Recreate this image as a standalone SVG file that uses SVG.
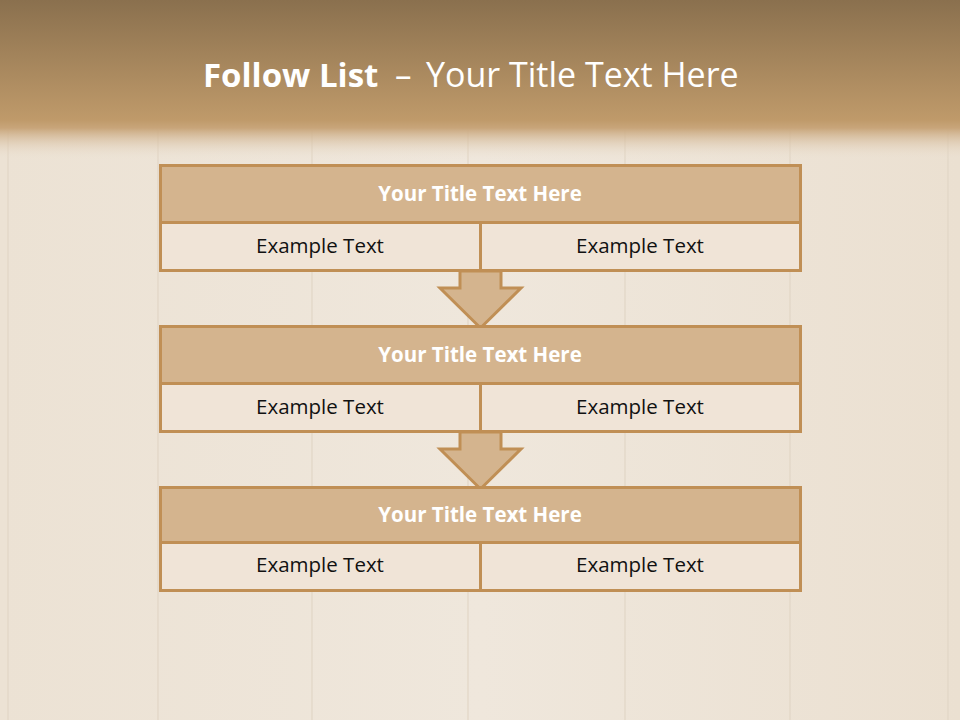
<svg xmlns="http://www.w3.org/2000/svg" width="960" height="720" viewBox="0 0 960 720">
<defs>
<linearGradient id="hdr" x1="0" y1="0" x2="0" y2="1">
<stop offset="0" stop-color="#8a704e"/>
<stop offset="0.75" stop-color="#bf9a6a"/>
<stop offset="0.8" stop-color="#c8a57a"/>
<stop offset="1" stop-color="#ede3d5" stop-opacity="0"/>
</linearGradient>
<linearGradient id="wood" x1="0" y1="0" x2="1" y2="0">
<stop offset="0" stop-color="#ece2d4"/>
<stop offset="0.5" stop-color="#efe7dc"/>
<stop offset="1" stop-color="#ebe0d1"/>
</linearGradient>
<style>
.title{fill:#d4b48e;stroke:#c08f55;stroke-width:3}
.cell{fill:#f0e4d7;stroke:#c08f55;stroke-width:3}
.arrow{fill:#d4b48e;stroke:#c08f55;stroke-width:3;stroke-linejoin:miter}
.plank{stroke:#e2d6c6;stroke-width:1.2;fill:none}
.tt{font-family:"Open Sans",Lato,sans-serif;font-weight:bold;font-size:20.5px;fill:#ffffff;text-anchor:middle}
.et{font-family:"Open Sans",Lato,sans-serif;font-size:20.5px;fill:#111111;text-anchor:middle}
</style>
</defs>
<rect width="960" height="720" fill="url(#wood)"/>
<g id="planks">
<path class="plank" d="M8 130V720M158 130V720M312 130V720M468 130V720M625 130V720M790 130V720M948 130V720"/>
</g>
<rect width="960" height="160" fill="url(#hdr)"/>
<text x="203" y="87" font-family="'Open Sans',Lato,sans-serif" font-size="33" fill="#ffffff"><tspan font-weight="bold">Follow List</tspan><tspan x="395">–</tspan><tspan x="426" font-size="34">Your Title Text Here</tspan></text>
<g id="connectors">
<path class="arrow" d="M460 271V288H440L480.5 328L521 288H501V271Z"/>
<path class="arrow" d="M460 432V449H440L480.5 489L521 449H501V432Z"/>
</g>
<g id="node1">
<rect class="title" x="160.5" y="165.5" width="640" height="57"/>
<rect class="cell" x="160.5" y="222.5" width="320" height="48"/>
<rect class="cell" x="480.5" y="222.5" width="320" height="48"/>
<text class="tt" x="480" y="201">Your Title Text Here</text>
<text class="et" x="320" y="253">Example Text</text>
<text class="et" x="640" y="253">Example Text</text>
</g>
<g id="node2">
<rect class="title" x="160.5" y="326.5" width="640" height="57"/>
<rect class="cell" x="160.5" y="383.5" width="320" height="48"/>
<rect class="cell" x="480.5" y="383.5" width="320" height="48"/>
<text class="tt" x="480" y="362">Your Title Text Here</text>
<text class="et" x="320" y="414">Example Text</text>
<text class="et" x="640" y="414">Example Text</text>
</g>
<g id="node3">
<rect class="title" x="160.5" y="487.5" width="640" height="55"/>
<rect class="cell" x="160.5" y="542.5" width="320" height="48"/>
<rect class="cell" x="480.5" y="542.5" width="320" height="48"/>
<text class="tt" x="480" y="522">Your Title Text Here</text>
<text class="et" x="320" y="572">Example Text</text>
<text class="et" x="640" y="572">Example Text</text>
</g>
</svg>
